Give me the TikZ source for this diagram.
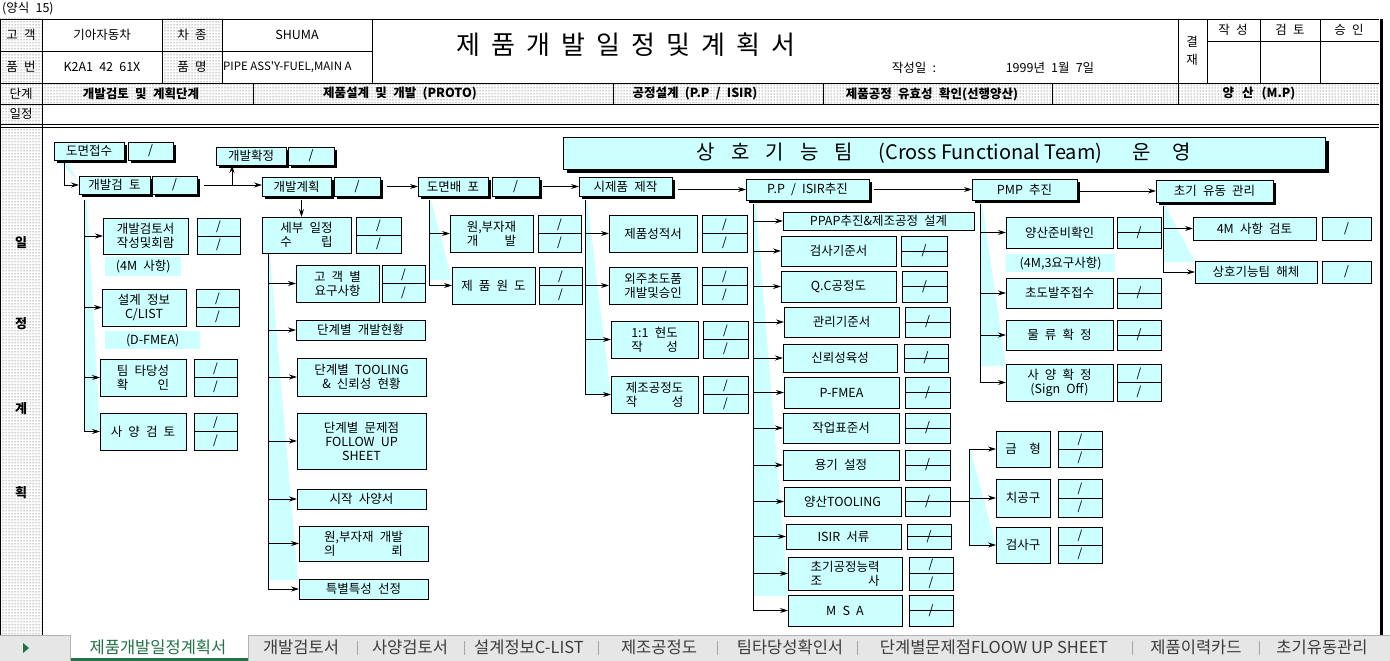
\documentclass[tikz,border=0pt]{standalone}
\usepackage{fontspec}
\setmainfont{Noto Sans CJK KR}[WordSpace=2.2, Ligatures=TeXOff]
\newfontfamily\latinf{Noto Sans CJK KR}[Ligatures=TeXOff, Scale=0.998]
\usetikzlibrary{arrows.meta,calc,shadows,patterns}
\definecolor{cfcyan}{RGB}{204,255,255}
\definecolor{tabgreen}{RGB}{33,115,70}
\definecolor{tabgray}{RGB}{230,230,230}
\definecolor{tabtext}{RGB}{60,60,60}
\newcommand{\bxf}{\fontsize{12.5}{14}\selectfont}
\newcommand{\tg}{\hspace{11pt}}
\newlength{\sprwd}
\newcommand{\spr}[3]{\settowidth{\sprwd}{#1}\global\sprwd=\sprwd #1\\\hbox to \sprwd{#2\hfill#3}}
\tikzset{
  box/.style={draw, fill=cfcyan, line width=0.8pt, anchor=north west, inner sep=1pt, outer sep=0pt, align=center, font=\bxf},
  sbox/.style={box, drop shadow={shadow xshift=3pt, shadow yshift=-3pt, fill=black, opacity=1}},
  note/.style={fill=cfcyan, anchor=north west, inner sep=0pt, font=\bxf},
  dbox/.style={box, path picture={\draw[line width=0.8pt] (path picture bounding box.west) -- (path picture bounding box.east);}},
  dbox2/.style={dbox, font=\fontsize{12}{18}\selectfont},
  arr/.style={-{Stealth[length=8pt,width=5pt]}, line width=0.8pt},
  link/.style={line width=0.8pt},
  frame/.style={line width=0.8pt},
  wedge/.style={fill=cfcyan},
  dotfill/.style={pattern=dots, pattern color=black!80},
  hcell/.style={font=\fontsize{12.5}{14}\selectfont, inner sep=0pt},
  hbold/.style={font=\fontsize{12.5}{14}\selectfont\bfseries, inner sep=0pt},
  tabl/.style={font=\fontsize{16.5}{18}\selectfont, text=tabtext, inner sep=0pt},
}
\begin{document}
\begin{tikzpicture}[x=1pt, y=-1pt]
\useasboundingbox (0,0) rectangle (1390,661);
\fill[white] (0,0) rectangle (1390,661);

% form header
\fill[dotfill] (0,19) rectangle (42,124);
\fill[dotfill] (162,19) rectangle (222,83);
\fill[dotfill] (42,83) rectangle (1379,104);
\fill[dotfill] (0,127) rectangle (42,635);
\draw[frame] (0,19) -- (1379,19) (0,51) -- (372,51) (1207,41) -- (1379,41);
\draw[frame] (0,83) -- (1379,83) (0,104) -- (1379,104) (0,124) -- (1379,124) (0,127) -- (1379,127);
\draw[frame] (0.5,19) -- (0.5,635) (42,19) -- (42,635);
\foreach \x in {162,222,372,1178,1207,1260,1320} \draw[frame] (\x,19) -- (\x,83);
\foreach \x in {253,613,823,1052,1178} \draw[frame] (\x,83) -- (\x,104);
\draw[line width=3pt] (1381,19) -- (1381,635);

\node[hcell, anchor=west] (form) at (2,9) {(양식 15)};
\node[hcell] (custl) at (21,35) {고 객};
\node[hcell] (cust) at (102,35) {기아자동차};
\node[hcell] (carl) at (192,35) {차 종};
\node[hcell] (car) at (297,35) {SHUMA};
\node[hcell] (pnol) at (21,67) {품 번};
\node[hcell] (pno) at (102,67) {K2A1 42 61X};
\node[hcell] (pnml) at (192,67) {품 명};
\node[hcell, anchor=west, font=\fontsize{11.5}{14}\selectfont\latinf] (pnm) at (223,67) {PIPE ASS'Y-FUEL,MAIN A};
\node[font=\fontsize{26}{30}\selectfont, inner sep=0pt] (title) at (626,45) {제\tg 품\tg 개\tg 발\tg 일\tg 정\tg 및\tg 계\tg 획\tg 서};
\node[hcell] (datel) at (914,68) {작성일 :};
\node[hcell] (date) at (1050,68) {1999년 1월 7일};
\node[hcell, align=center, font=\fontsize{12.5}{18}\selectfont] (appr) at (1192,51) {결\\재};
\node[hcell] (ap1) at (1233,30) {작 성};
\node[hcell] (ap2) at (1290,30) {검 토};
\node[hcell] (ap3) at (1349,30) {승 인};
\node[hcell] (stgl) at (21,94) {단계};
\node[hbold] (stg1) at (141,94) {개발검토 및 계획단계};
\node[hbold] (stg2) at (400,94) {제품설계 및 개발 (PROTO)};
\node[hbold] (stg3) at (695,94) {공정설계 (P.P / ISIR)};
\node[hbold] (stg4) at (932,94) {제품공정 유효성 확인(선행양산)};
\node[hbold] (stg5) at (1259,94) {양\hspace{8pt}산\hspace{8pt}(M.P)};
\node[hcell] (schl) at (21,114) {일정};
\foreach \t/\y in {일/243,정/324,계/409,획/493}
  \node[font=\fontsize{13}{15}\selectfont\bfseries, inner sep=0pt] (lc\y) at (21,\y) {\t};

% connector shading
\fill[wedge] (58,161) -- (66,161) -- (79,182) -- cycle;
\fill[wedge] (84,200) -- (87,200) -- (100,430) -- (84,430) -- cycle;
\fill[wedge] (268,256) -- (270,256) -- (298,580) -- (268,580) -- cycle;
\fill[wedge] (429,200) -- (431,200) -- (452,280) -- (429,280) -- cycle;
\fill[wedge] (585,200) -- (587,200) -- (611,395) -- (585,395) -- cycle;
\fill[wedge] (753,204) -- (756,204) -- (788,596) -- (753,596) -- cycle;
\fill[wedge] (980,203) -- (982,203) -- (1006,366) -- (980,366) -- cycle;
\fill[wedge] (1163,205) -- (1165,205) -- (1195,262) -- (1163,262) -- cycle;
\fill[wedge] (969,452) -- (971,452) -- (996,546) -- (969,546) -- cycle;

% main stages
\node[box, minimum width=762, minimum height=32, font=\fontsize{20}{24}\selectfont,
  drop shadow={shadow xshift=4pt, shadow yshift=-4pt, fill=black, opacity=1}] (cft) at (563,137)
  {상\hspace{16pt}호\hspace{16pt}기\hspace{16pt}능\hspace{16pt}팀\hspace{26pt}{\latinf (Cross Functional Team)}\hspace{30pt}운\hspace{22pt}영};
\node[sbox, minimum width=70, minimum height=18] (dm) at (54,142) {도면접수};
\node[sbox, minimum width=45, minimum height=18] (dmd) at (128,142) {/};
\node[sbox, minimum width=70, minimum height=18] (hj) at (216,147) {개발확정};
\node[sbox, minimum width=46, minimum height=18] (hjd) at (288,147) {/};
\node[sbox, minimum width=71, minimum height=18] (kg) at (79,176) {개발검 토};
\node[sbox, minimum width=45, minimum height=18] (kgd) at (152,176) {/};
\node[sbox, minimum width=69, minimum height=19] (kh) at (262,177) {개발계획};
\node[sbox, minimum width=46, minimum height=19] (khd) at (334,177) {/};
\node[sbox, minimum width=70, minimum height=19] (db) at (418,177) {도면배 포};
\node[sbox, minimum width=47, minimum height=19] (dbd) at (492,177) {/};
\node[sbox, minimum width=93, minimum height=19] (sj) at (579,177) {시제품 제작};
\node[sbox, minimum width=123, minimum height=21] (pp) at (746,179) {P.P / ISIR추진};
\node[sbox, minimum width=105, minimum height=21] (pmp) at (972,179) {PMP 추진};
\node[sbox, minimum width=117, minimum height=22] (cy) at (1156,180) {초기 유동 관리};

% 개발검토
\node[box, minimum width=85, minimum height=36] (kg1) at (103,218) {개발검토서\\작성및회람};
\node[dbox2, minimum width=43, minimum height=36] (kg1d) at (197,218) {/\\/};
\node[note, minimum width=76, minimum height=19] (kg1n) at (105,257) {(4M 사항)};
\node[box, minimum width=84, minimum height=37] (kg2) at (102,289) {설계 정보\\C/LIST};
\node[dbox2, minimum width=43, minimum height=37] (kg2d) at (196,289) {/\\/};
\node[note, minimum width=95, minimum height=18] (kg2n) at (105,331) {(D-FMEA)};
\node[box, minimum width=86, minimum height=37] (kg3) at (100,359) {\spr{팀 타당성}{확}{인}};
\node[dbox2, minimum width=43, minimum height=37] (kg3d) at (194,359) {/\\/};
\node[box, minimum width=86, minimum height=37] (kg4) at (100,413) {사 양 검 토};
\node[dbox2, minimum width=43, minimum height=37] (kg4d) at (194,413) {/\\/};

% 개발계획
\node[box, minimum width=89, minimum height=36] (sb) at (262,217) {\spr{세부 일정}{수}{립}};
\node[dbox2, minimum width=45, minimum height=36] (sbd) at (356,217) {/\\/};
\node[box, minimum width=83, minimum height=37] (sb1) at (296,265) {고 객 별\\요구사항};
\node[dbox2, minimum width=43, minimum height=37] (sb1d) at (382,265) {/\\/};
\node[box, minimum width=129, minimum height=20] (sb2) at (296,320) {단계별 개발현황};
\node[box, minimum width=129, minimum height=38] (sb3) at (297,358) {단계별 TOOLING\\\& 신뢰성 현황};
\node[box, minimum width=129, minimum height=56] (sb4) at (297,413) {단계별 문제점\\FOLLOW UP\\SHEET};
\node[box, minimum width=129, minimum height=20] (sb5) at (297,489) {시작 사양서};
\node[box, minimum width=129, minimum height=35] (sb6) at (299,526) {\spr{원,부자재 개발}{의}{뢰}};
\node[box, minimum width=129, minimum height=20] (sb7) at (299,579) {특별특성 선정};

% 도면배포
\node[box, minimum width=83, minimum height=37] (db1) at (450,215) {\spr{원,부자재}{개}{발}};
\node[dbox2, minimum width=43, minimum height=37] (db1d) at (538,215) {/\\/};
\node[box, minimum width=83, minimum height=37] (db2) at (452,267) {제 품 원 도};
\node[dbox2, minimum width=43, minimum height=37] (db2d) at (539,267) {/\\/};

% 시제품 제작
\node[box, minimum width=88, minimum height=37] (sj1) at (609,215) {제품성적서};
\node[dbox2, minimum width=45, minimum height=37] (sj1d) at (702,215) {/\\/};
\node[box, minimum width=88, minimum height=37] (sj2) at (609,267) {외주초도품\\개발및승인};
\node[dbox2, minimum width=45, minimum height=37] (sj2d) at (702,267) {/\\/};
\node[box, minimum width=87, minimum height=37] (sj3) at (611,321) {\spr{1:1 현도}{작}{성}};
\node[dbox2, minimum width=45, minimum height=37] (sj3d) at (703,321) {/\\/};
\node[box, minimum width=87, minimum height=37] (sj4) at (611,376) {\spr{제조공정도}{작}{성}};
\node[dbox2, minimum width=45, minimum height=37] (sj4d) at (703,376) {/\\/};

% P.P / ISIR
\node[box, minimum width=191, minimum height=18] (pp1) at (783,212) {PPAP추진\&제조공정 설계};
\node[box, minimum width=115, minimum height=30] (pp2) at (781,236) {검사기준서};
\node[dbox, minimum width=46, minimum height=30] (pp2d) at (901,236) {/};
\node[box, minimum width=115, minimum height=31] (pp3) at (781,271) {Q.C공정도};
\node[dbox, minimum width=45, minimum height=31] (pp3d) at (902,271) {/};
\node[box, minimum width=115, minimum height=30] (pp4) at (784,307) {관리기준서};
\node[dbox, minimum width=45, minimum height=30] (pp4d) at (905,307) {/};
\node[box, minimum width=114, minimum height=28] (pp5) at (783,344) {신뢰성육성};
\node[dbox, minimum width=44, minimum height=28] (pp5d) at (904,344) {/};
\node[box, minimum width=115, minimum height=31] (pp6) at (784,377) {P-FMEA};
\node[dbox, minimum width=45, minimum height=31] (pp6d) at (905,377) {/};
\node[box, minimum width=116, minimum height=30] (pp7) at (783,413) {작업표준서};
\node[dbox, minimum width=45, minimum height=30] (pp7d) at (905,413) {/};
\node[box, minimum width=116, minimum height=30] (pp8) at (783,450) {용기 설정};
\node[dbox, minimum width=45, minimum height=30] (pp8d) at (905,450) {/};
\node[box, minimum width=117, minimum height=29] (pp9) at (784,487) {양산TOOLING};
\node[dbox, minimum width=45, minimum height=29] (pp9d) at (905,487) {/};
\node[box, minimum width=115, minimum height=25] (pp10) at (786,524) {ISIR 서류};
\node[dbox, minimum width=44, minimum height=25] (pp10d) at (907,524) {/};
\node[box, minimum width=114, minimum height=33] (pp11) at (788,557) {\spr{초기공정능력}{조}{사}};
\node[dbox2, minimum width=44, minimum height=33] (pp11d) at (909,557) {/\\/};
\node[box, minimum width=114, minimum height=31] (pp12) at (788,595) {M S A};
\node[dbox, minimum width=44, minimum height=31] (pp12d) at (909,595) {/};

% tooling
\node[box, minimum width=54, minimum height=36] (tl1) at (996,431) {금\hspace{1em}형};
\node[dbox2, minimum width=44, minimum height=36] (tl1d) at (1058,431) {/\\/};
\node[box, minimum width=54, minimum height=38] (tl2) at (996,479) {치공구};
\node[dbox2, minimum width=44, minimum height=38] (tl2d) at (1058,479) {/\\/};
\node[box, minimum width=54, minimum height=36] (tl3) at (996,527) {검사구};
\node[dbox2, minimum width=44, minimum height=36] (tl3d) at (1058,527) {/\\/};

% PMP
\node[box, minimum width=107, minimum height=31] (pm1) at (1006,217) {양산준비확인};
\node[dbox, minimum width=44, minimum height=31] (pm1d) at (1117,217) {/};
\node[note, minimum width=109, minimum height=18] (pm1n) at (1006,254) {(4M,3요구사항)};
\node[box, minimum width=107, minimum height=30] (pm2) at (1006,278) {초도발주접수};
\node[dbox, minimum width=44, minimum height=30] (pm2d) at (1117,278) {/};
\node[box, minimum width=107, minimum height=30] (pm3) at (1006,320) {물 류 확 정};
\node[dbox, minimum width=44, minimum height=30] (pm3d) at (1117,320) {/};
\node[box, minimum width=107, minimum height=37] (pm4) at (1006,364) {사 양 확 정\\(Sign Off)};
\node[dbox2, minimum width=44, minimum height=37] (pm4d) at (1117,364) {/\\/};

% 초기 유동
\node[box, minimum width=123, minimum height=23] (cy1) at (1193,217) {4M 사항 검토};
\node[box, minimum width=49, minimum height=23] (cy1d) at (1322,217) {/};
\node[box, minimum width=122, minimum height=22] (cy2) at (1195,261) {상호기능팀 해체};
\node[box, minimum width=49, minimum height=22] (cy2d) at (1322,261) {/};

% flow
\draw[arr] ([xshift=10pt]dm.south west) |- (kg.west);
\coordinate (hjb) at ($(hj.south west)+(16,0)$);
\draw[arr] ([xshift=7pt]kgd.east) -- (kgd.east -| kh.west);
\draw[arr] (hjb |- kgd.east) -- (hjb);
\draw[arr] ([xshift=5pt, yshift=-4pt]kh.south) -- ([xshift=5pt]kh.south |- sb.north);
\draw[arr] ([xshift=7pt]khd.east) -- (khd.east -| db.west);
\draw[arr] ([xshift=4pt]dbd.east) -- (dbd.east -| sj.west);
\draw[arr] ([xshift=6pt]sj.east |- pp.west) -- (pp.west);
\draw[arr] ([xshift=5pt]pp.east) -- (pp.east -| pmp.west);
\draw[arr] ([xshift=3pt]pmp.east |- cy.west) -- (cy.west);

\coordinate (kgt) at ($(kg.south west)+(5,6)$);
\draw[link] (kgt) -- (kgt |- kg4.west);
\foreach \c in {kg1,kg2,kg3,kg4} \draw[arr] (kgt |- \c.west) -- (\c.west);
\coordinate (sbt) at ($(sb.south west)+(6,0)$);
\draw[link] (sbt) -- (sbt |- sb7.west);
\foreach \c in {sb1,sb2,sb3,sb4,sb5,sb6,sb7} \draw[arr] (sbt |- \c.west) -- (\c.west);
\coordinate (dbt) at ($(db.south west)+(11,4)$);
\draw[link] (dbt) -- (dbt |- db2.west);
\foreach \c in {db1,db2} \draw[arr] (dbt |- \c.west) -- (\c.west);
\coordinate (sjt) at ($(sj.south west)+(6,4)$);
\draw[link] (sjt) -- (sjt |- sj4.west);
\foreach \c in {sj1,sj2,sj3,sj4} \draw[arr] (sjt |- \c.west) -- (\c.west);
\coordinate (ppt) at ($(pp.south west)+(7,4)$);
\draw[link] (ppt) -- (ppt |- pp12.west);
\foreach \c in {pp1,pp2,pp3,pp4,pp5,pp6,pp7,pp8,pp9,pp10,pp11,pp12} \draw[arr] (ppt |- \c.west) -- (\c.west);
\coordinate (pmt) at ($(pmp.south west)+(8,4)$);
\draw[link] (pmt) -- (pmt |- pm4.west);
\foreach \c in {pm1,pm2,pm3,pm4} \draw[arr] (pmt |- \c.west) -- (\c.west);
\coordinate (cyt) at ($(cy.south west)+(7,4)$);
\draw[link] (cyt) -- (cyt |- cy2.west);
\foreach \c in {cy1,cy2} \draw[arr] (cyt |- \c.west) -- (\c.west);
\coordinate (tlx) at ($(pp9d.east)+(19,0)$);
\draw[link] (pp9d.east) -- (tlx);
\draw[link] (tlx |- tl1.west) -- (tlx |- tl3.west);
\foreach \c in {tl1,tl2,tl3} \draw[arr] (tlx |- \c.west) -- (\c.west);

% sheet tabs
\fill[tabgray] (0,635) rectangle (1390,661);
\draw[gray!60, line width=0.6pt] (0,635) -- (1390,635);
\fill[white] (70,635) rectangle (248,661);
\fill[tabgreen] (70,658) rectangle (248,661);
\draw[gray!60, line width=0.6pt] (70,635) -- (70,661) (248,635) -- (248,661);
\fill[tabgreen] (23,643) -- (29,648) -- (23,653) -- cycle;
\foreach \x in {357,464,598,717,857,1132,1259} \draw[gray!70, line width=0.8pt] (\x,641) -- (\x,655);
\node[tabl, text=tabgreen] (tab1) at (158,647) {제품개발일정계획서};
\node[tabl] (tab2) at (301,647) {개발검토서};
\node[tabl] (tab3) at (410,647) {사양검토서};
\node[tabl] (tab4) at (529,647) {설계정보C-LIST};
\node[tabl] (tab5) at (659,647) {제조공정도};
\node[tabl] (tab6) at (790,647) {팀타당성확인서};
\node[tabl] (tab7) at (994,647) {단계별문제점{\latinf FLOOW UP SHEET}};
\node[tabl] (tab8) at (1196,647) {제품이력카드};
\node[tabl] (tab9) at (1322,647) {초기유동관리};
\end{tikzpicture}
\end{document}
